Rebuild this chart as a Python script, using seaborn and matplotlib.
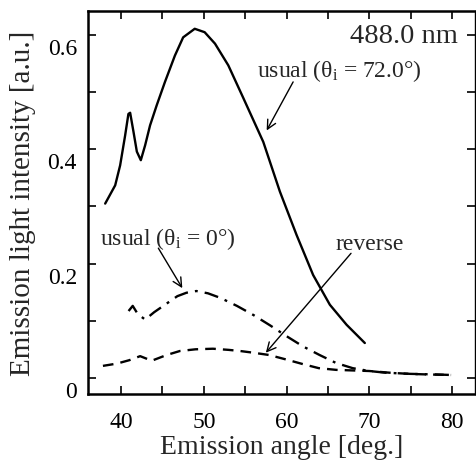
import numpy as np
import pandas as pd
import matplotlib
matplotlib.use("Agg")
import matplotlib.pyplot as plt
import matplotlib.transforms as mtransforms
import seaborn as sns

# curves
# usual, theta_i = 72.0 deg (solid)
x_usual72 = [38.07, 39.28, 39.88, 40.48, 40.88, 41.09, 41.49, 41.9, 42.38, 42.9, 43.5, 44.3, 45.3, 46.5,
             47.5, 48.9, 50.1, 51.35, 52.96, 54.77, 57.19, 59.2, 61.22, 63.22, 65.24, 67.26, 69.47]
y_usual72 = [0.305, 0.337, 0.372, 0.424, 0.462, 0.464, 0.431, 0.396, 0.381, 0.407, 0.442, 0.477, 0.518,
             0.564, 0.596, 0.611, 0.605, 0.585, 0.547, 0.490, 0.413, 0.326, 0.250, 0.180, 0.128, 0.093,
             0.061]

# usual, theta_i = 0 deg (dash-dot)
x_usual0 = [40.9, 41.4, 42.0, 42.9, 44.0, 45.5, 46.8, 47.9, 49.1, 50.5, 52.0, 54.0, 56.0, 58.0, 60.0,
            62.0, 64.0, 66.0, 68.0, 70.0, 72.0, 75.0, 78.0, 80.0]
y_usual0 = [0.117, 0.126, 0.112, 0.102, 0.115, 0.130, 0.143, 0.149, 0.152, 0.148, 0.140, 0.126, 0.110,
            0.092, 0.073, 0.055, 0.040, 0.026, 0.017, 0.012, 0.009, 0.007, 0.006, 0.005]

# reverse (dashed)
x_reverse = [37.8, 39.5, 41.0, 42.3, 43.7, 45.5, 47.1, 49.0, 51.1, 53.0, 54.4, 56.0, 57.9, 60.0, 62.0,
             63.9, 66.0, 68.0, 70.0, 72.5, 74.8, 77.0, 79.9]
y_reverse = [0.021, 0.025, 0.031, 0.038, 0.030, 0.040, 0.047, 0.050, 0.051, 0.049, 0.047, 0.044, 0.040,
             0.032, 0.024, 0.017, 0.014, 0.013, 0.012, 0.009, 0.007, 0.006, 0.005]

sns.set_theme(style="ticks")
plt.rcParams['font.family'] = ['Liberation Serif', 'DejaVu Serif']
plt.rcParams['mathtext.fontset'] = 'custom'
plt.rcParams['mathtext.rm'] = 'Liberation Serif'
plt.rcParams['mathtext.it'] = 'Liberation Serif:italic'

fig = plt.figure(figsize=(4.76, 4.64), dpi=100)
ax = fig.add_axes([0.185, 0.149, 0.813, 0.825])

sns.lineplot(x=x_usual72, y=y_usual72, ax=ax, color='black', lw=1.7)
sns.lineplot(x=x_usual0, y=y_usual0, ax=ax, color='black', lw=1.7)
ax.lines[-1].set_dashes([6, 3, 1.2, 3])
sns.lineplot(x=x_reverse, y=y_reverse, ax=ax, color='black', lw=1.7)
ax.lines[-1].set_dashes([4.5, 3])

ax.set_xlim(36.0, 82.8)
ax.set_ylim(-0.028, 0.642)
ax.set_xticks([40, 50, 60, 70, 80])
ax.set_xticks([45, 55, 65, 75], minor=True)
ax.set_yticks([0, 0.2, 0.4, 0.6])
ax.set_yticklabels(['0', '0.2', '0.4', '0.6'])
ax.set_yticks([0.1, 0.3, 0.5], minor=True)
ax.tick_params(which='both', direction='in', top=True, right=True, width=1.2,
               length=6, labelsize=17, colors='black')
ax.tick_params(axis='x', pad=12)
ax.tick_params(axis='y', pad=8)

# tick labels in the original sit a little below their ticks
shift = mtransforms.ScaledTranslation(0, -0.11, fig.dpi_scale_trans)
for lab in ax.get_yticklabels():
    lab.set_transform(lab.get_transform() + shift)

for s in ax.spines.values():
    s.set_linewidth(1.8)
    s.set_color('black')
ax.spines['right'].set_linewidth(1.0)

ax.set_xlabel('Emission angle [deg.]', fontsize=20, labelpad=1.5)
ax.set_ylabel('Emission light intensity [a.u.]', fontsize=21, labelpad=8)

ax.text(80.7, 0.599, '488.0 nm', fontsize=20.5, ha='right', va='center')

arrow = dict(arrowstyle='->', color='black', lw=1.0, mutation_scale=16, shrinkA=0, shrinkB=0)
ax.text(66.4, 0.539, r'usual ($\mathrm{θ_i}$ = 72.0°)', fontsize=17, ha='center', va='center')
ax.annotate('', xy=(57.6, 0.433), xytext=(60.8, 0.518), arrowprops=arrow)
ax.text(45.7, 0.244, r'usual ($\mathrm{θ_i}$ = 0°)', fontsize=17, ha='center', va='center')
ax.annotate('', xy=(47.4, 0.157), xytext=(44.5, 0.227), arrowprops=arrow)
ax.text(70.1, 0.236, 'reverse', fontsize=17, ha='center', va='center')
ax.annotate('', xy=(57.5, 0.044), xytext=(67.8, 0.218), arrowprops=arrow)

fig.savefig('out.png', dpi=100)
